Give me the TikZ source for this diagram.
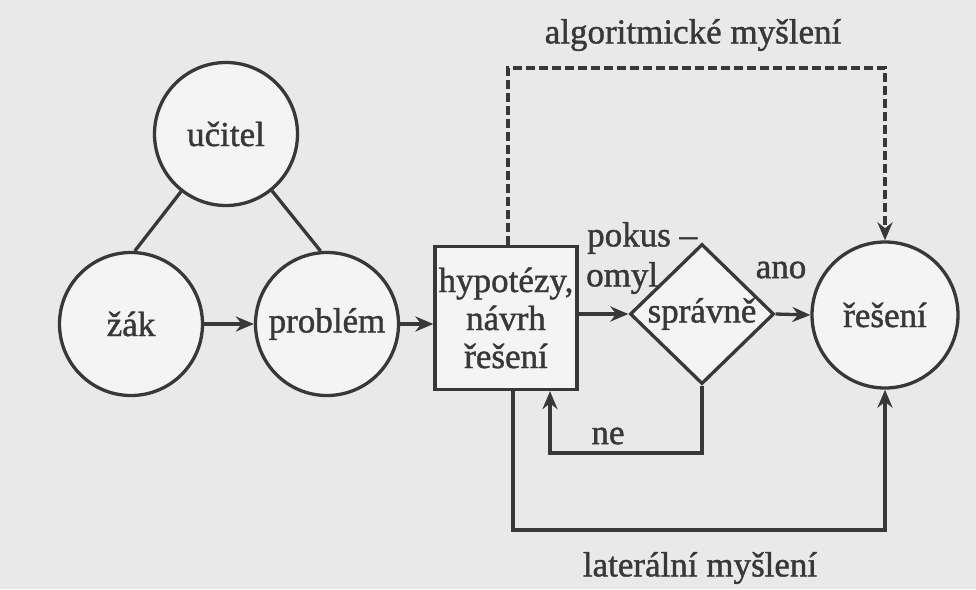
\documentclass[tikz,border=0pt]{standalone}
\usepackage{fontspec}
\setmainfont{Liberation Serif}[BoldFont={Liberation Serif},BoldFeatures={FakeBold=1.2}]
\usetikzlibrary{arrows.meta,shapes.geometric,calc}
\definecolor{ink}{HTML}{383838}
\definecolor{paper}{HTML}{E9E9E9}
\definecolor{inner}{HTML}{F4F4F4}
\begin{document}
\begin{tikzpicture}[x=1pt,y=-1pt,
  every node/.style={text=ink,font=\fontsize{35}{38}\selectfont\bfseries},
  circ/.style={circle,draw=ink,line width=3.3pt,fill=inner,minimum size=143pt,inner sep=0pt},
  boxnode/.style={rectangle,draw=ink,line width=3.3pt,fill=inner,minimum width=142pt,minimum height=143pt,inner sep=0pt,align=center},
  decide/.style={diamond,draw=ink,line width=3.3pt,fill=inner,minimum width=144pt,minimum height=140pt,inner sep=0pt},
  conn/.style={draw=ink,line width=3.3pt},
  arr/.style={conn,-{Stealth[length=18pt,width=15pt]}},
  lbl/.style={inner sep=0pt}]
\path[fill=paper] (0,0) rectangle (976,589);
\node[circ] (ucitel) at (226,134) {učitel};
\node[circ] (zak) at (131,324) {žák};
\node[circ] (problem) at (327,324) {problém};
\node[boxnode] (hyp) at (506,318) {hypotézy,\\návrh\\řešení};
\node[decide] (spr) at (702,314) {};
\node[lbl] (sprtext) at (702,314) {správně};
\node[circ,minimum size=146pt] (res) at (885,315) {řešení};
\coordinate (neturn) at (550,453);
\coordinate (latturn) at (513,530);
\coordinate (algturn) at (508,68);
\draw[conn] (ucitel.232) -- (zak.87);
\draw[conn] (ucitel.309) -- (problem.95);
\draw[arr] (zak) -- (problem);
\draw[arr] (problem.east) -- (problem.east -| hyp.west);
\draw[arr] (spr.west -| hyp.east) -- (spr.west);
\draw[arr] (spr.east) -- (res.west);
\draw[arr] (spr.south) |- (neturn) -- (neturn |- hyp.south);
\draw[arr] (latturn |- hyp.south) -- (latturn) -| (res.south);
\draw[arr,dashed,dash pattern=on 9pt off 4pt] (algturn |- hyp.north) -- (algturn) -| (res.north);
\node[lbl] (alg) at (693,35) {algoritmické myšlení};
\node[lbl] (lat) at (700,568) {laterální myšlení};
\node[lbl,anchor=west] (pokus) at (587,238) {pokus –};
\node[lbl,anchor=west] (omyl) at (586,278) {omyl};
\node[lbl] (ano) at (781,270) {ano};
\node[lbl] (ne) at (608,436) {ne};
\end{tikzpicture}
\end{document}
